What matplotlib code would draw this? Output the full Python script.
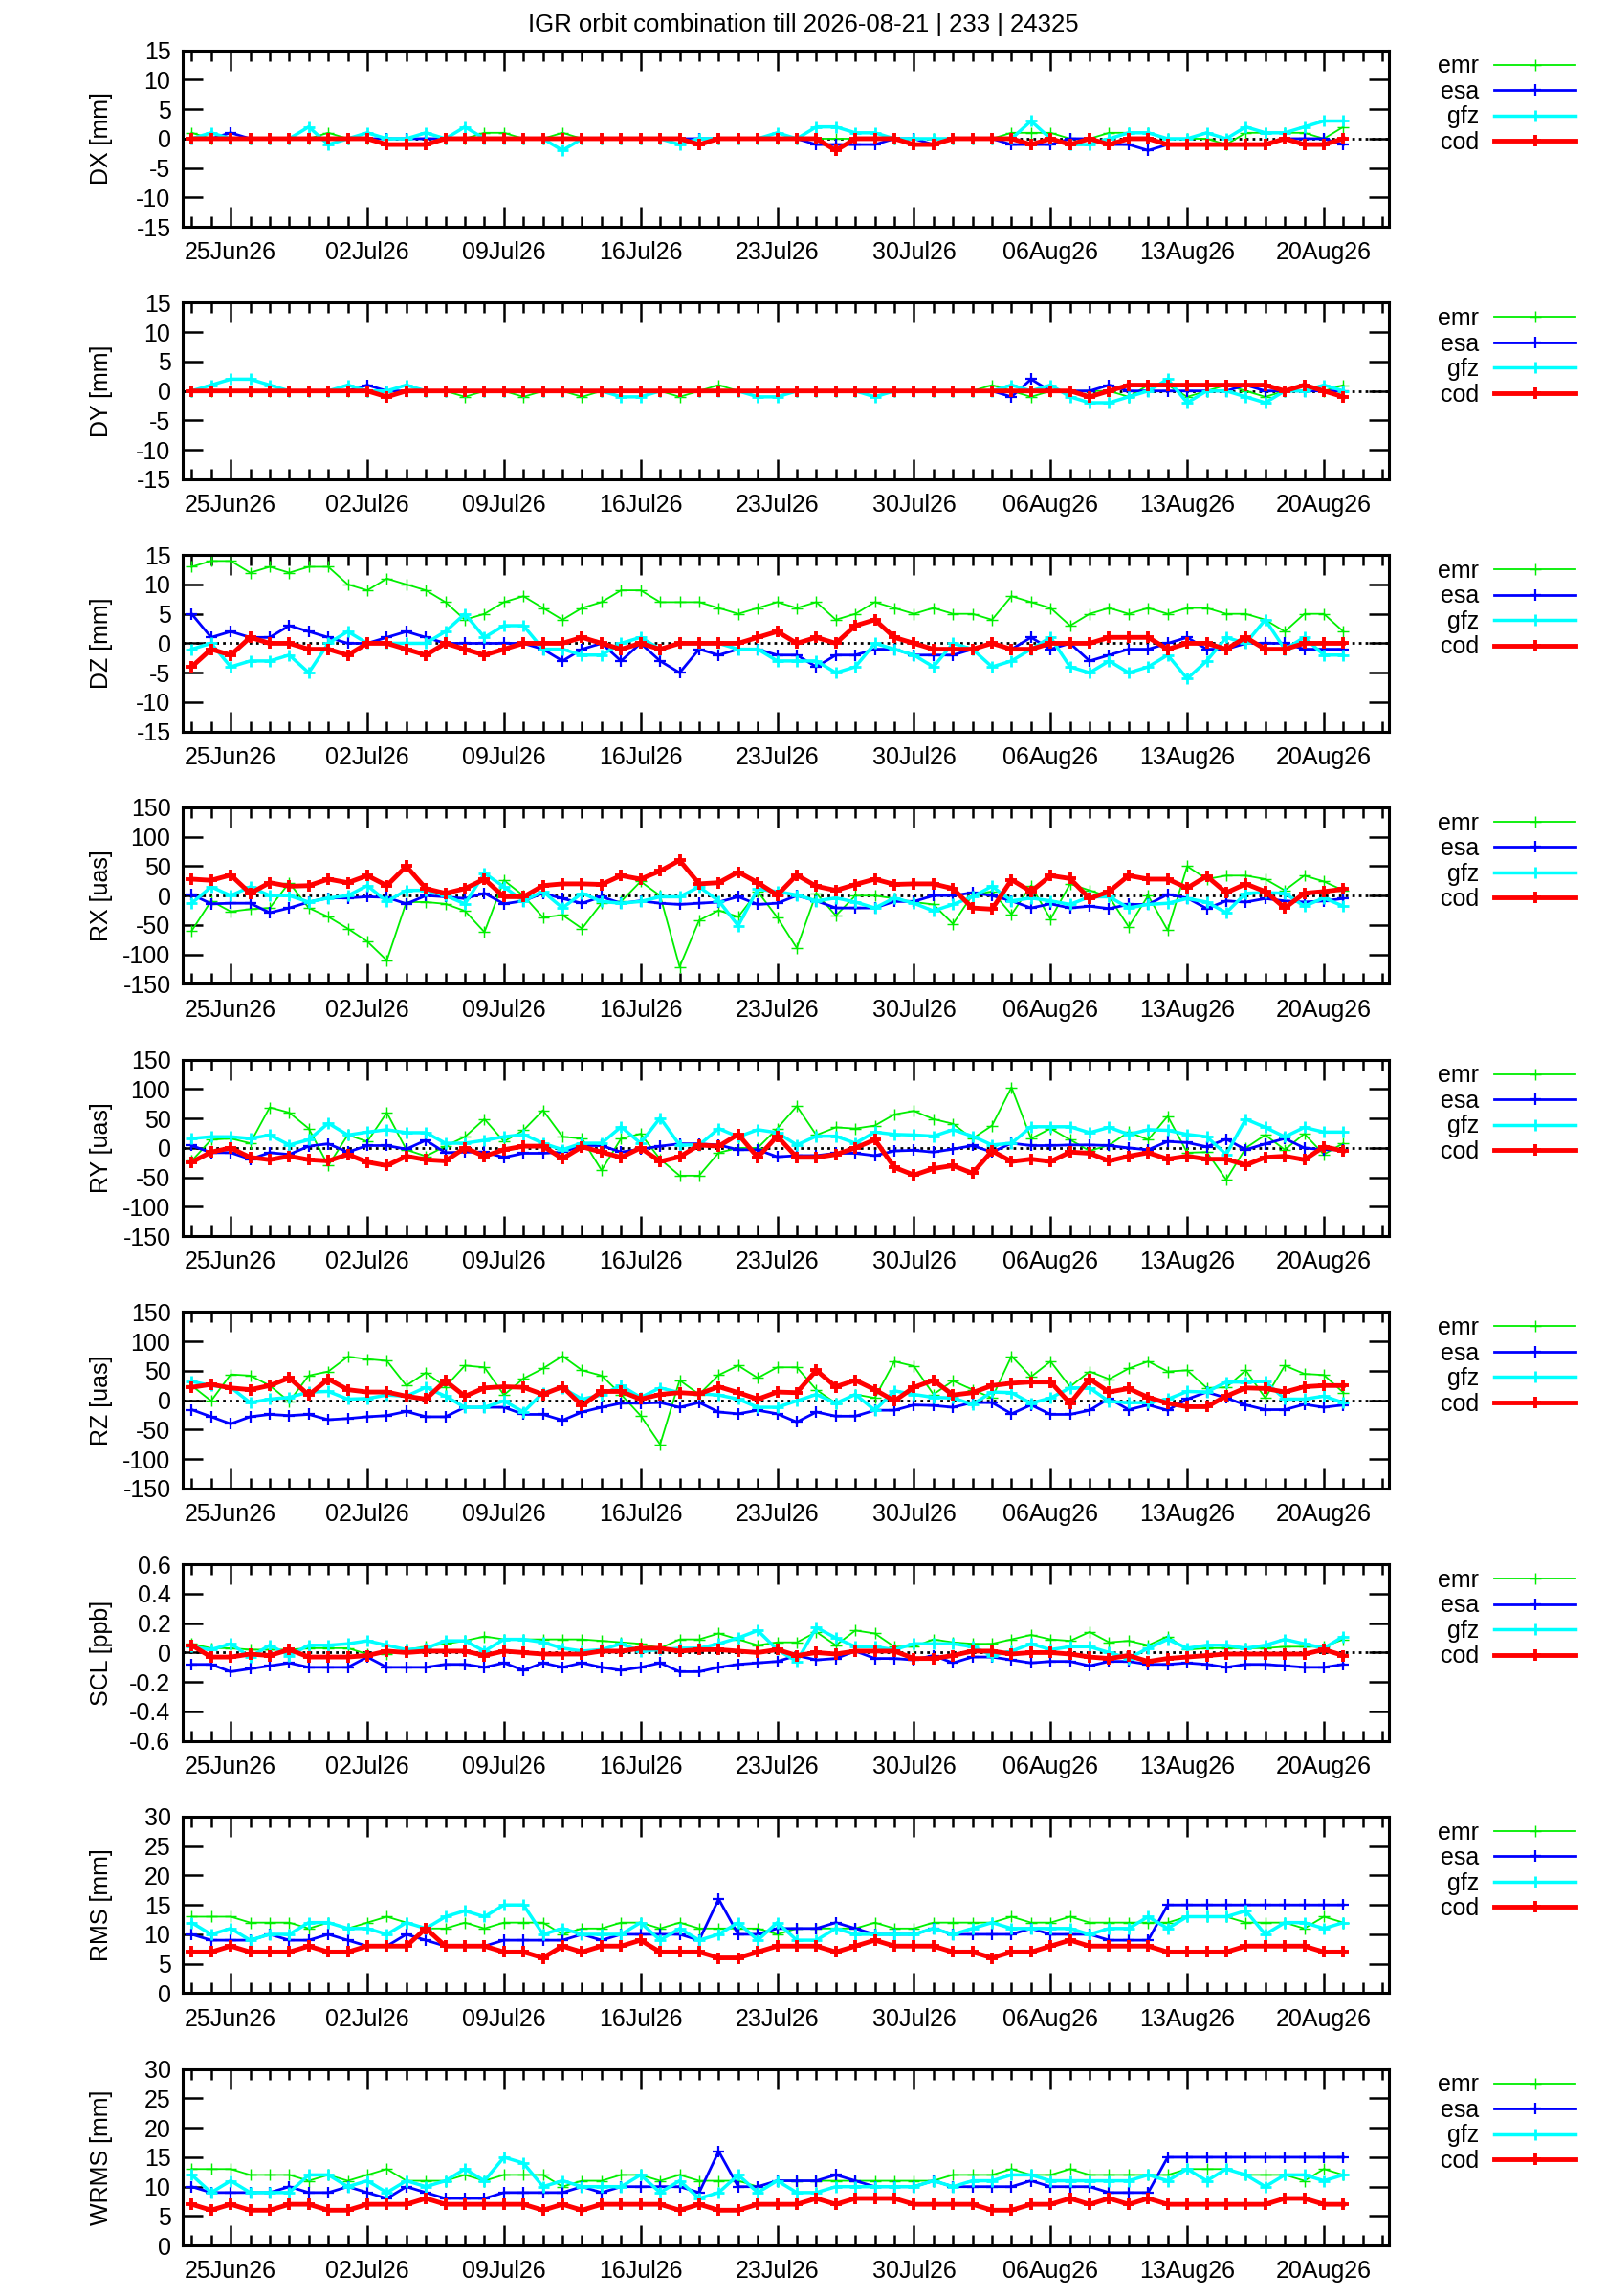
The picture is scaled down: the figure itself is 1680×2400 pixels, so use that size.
import matplotlib
matplotlib.use("Agg")
import matplotlib.pyplot as plt
import matplotlib.dates as mdates
from matplotlib.ticker import MultipleLocator, FuncFormatter
import pandas as pd

# daily solutions 23Jun26 .. 21Aug26
dates = pd.date_range("2026-06-23", "2026-08-21", freq="D")
week_ticks = pd.date_range("2026-06-25", "2026-08-20", freq="7D")
centers = ["emr", "esa", "gfz", "cod"]

dx_emr = [1, 0, 0, 0, 0, 0, 0, 1, 0, 0, 0, 0, 0, 0, 0, 1, 1, 0, 0, 1,
          0, 0, 0, 0, 0, 0, 0, 0, 0, 0, 0, 0, 0, 0, 0, 0, 0, 0, 0, 0,
          0, 0, 1, 1, 1, 0, 0, 1, 1, 1, 0, 0, 0, -1, 1, 1, 1, 1, 0, 2]
dx_esa = [0, 0, 1, 0, 0, 0, 0, 0, 0, 0, 0, 0, 0, 0, 0, 0, 0, 0, 0, 0,
          0, 0, 0, 0, 0, 0, 0, 0, 0, 0, 0, 0, -1, -1, -1, -1, 0, 0, -1, 0,
          0, 0, -1, -1, -1, 0, 0, -1, -1, -2, -1, -1, -1, -1, -1, -1, 0, 0, 0, -1]
dx_gfz = [0, 1, 0, 0, 0, 0, 2, -1, 0, 1, 0, 0, 1, 0, 2, 0, 0, 0, 0, -2,
          0, 0, 0, 0, 0, -1, 0, 0, 0, 0, 1, 0, 2, 2, 1, 1, 0, 0, 0, 0,
          0, 0, 0, 3, 0, -1, -1, 0, 1, 1, 0, 0, 1, 0, 2, 1, 1, 2, 3, 3]
dx_cod = [0, 0, 0, 0, 0, 0, 0, 0, 0, 0, -1, -1, -1, 0, 0, 0, 0, 0, 0, 0,
          0, 0, 0, 0, 0, 0, -1, 0, 0, 0, 0, 0, 0, -2, 0, 0, 0, -1, -1, 0,
          0, 0, 0, -1, 0, -1, 0, -1, 0, 0, -1, -1, -1, -1, -1, -1, 0, -1, -1, 0]

dy_emr = [0, 0, 0, 0, 0, 0, 0, 0, 0, 0, 0, 0, 0, 0, -1, 0, 0, -1, 0, 0,
          -1, 0, 0, 0, 0, -1, 0, 1, 0, 0, 0, 0, 0, 0, 0, 0, 0, 0, 0, 0,
          0, 1, 0, -1, 0, 0, 0, 0, -1, 1, 1, -1, 0, 1, 0, -1, 0, 1, 0, 1]
dy_esa = [0, 0, 0, 0, 0, 0, 0, 0, 0, 1, 0, 0, 0, 0, 0, 0, 0, 0, 0, 0,
          0, 0, 0, 0, 0, 0, 0, 0, 0, 0, 0, 0, 0, 0, 0, 0, 0, 0, 0, 0,
          0, 0, -1, 2, 0, 0, 0, 1, 0, 0, 0, 0, 0, 0, 1, 0, 0, 0, 0, 0]
dy_gfz = [0, 1, 2, 2, 1, 0, 0, 0, 1, 0, 0, 1, 0, 0, 0, 0, 0, 0, 0, 0,
          0, 0, -1, -1, 0, 0, 0, 0, 0, -1, -1, 0, 0, 0, 0, -1, 0, 0, 0, 0,
          0, 0, 1, 0, 1, -1, -2, -2, -1, 0, 2, -2, 0, 0, -1, -2, 0, 0, 1, 0]
dy_cod = [0, 0, 0, 0, 0, 0, 0, 0, 0, 0, -1, 0, 0, 0, 0, 0, 0, 0, 0, 0,
          0, 0, 0, 0, 0, 0, 0, 0, 0, 0, 0, 0, 0, 0, 0, 0, 0, 0, 0, 0,
          0, 0, 0, 0, 0, 0, -1, 0, 1, 1, 1, 1, 1, 1, 1, 1, 0, 1, 0, -1]

dz_emr = [13, 14, 14, 12, 13, 12, 13, 13, 10, 9, 11, 10, 9, 7, 4, 5, 7, 8, 6, 4,
          6, 7, 9, 9, 7, 7, 7, 6, 5, 6, 7, 6, 7, 4, 5, 7, 6, 5, 6, 5,
          5, 4, 8, 7, 6, 3, 5, 6, 5, 6, 5, 6, 6, 5, 5, 4, 2, 5, 5, 2]
dz_esa = [5, 1, 2, 1, 1, 3, 2, 1, 0, 0, 1, 2, 1, 0, 0, 0, 0, 0, -1, -3,
          -1, 0, -3, 0, -3, -5, -1, -2, -1, -1, -2, -2, -4, -2, -2, -1, -1, -2, -2, -2,
          -1, 0, -1, 1, -1, 0, -3, -2, -1, -1, 0, 1, -1, -1, 0, 0, 0, -1, -1, -1]
dz_gfz = [-1, 0, -4, -3, -3, -2, -5, 0, 2, 0, 0, 0, 0, 2, 5, 1, 3, 3, -1, -1,
          -2, -2, 0, 1, -1, 0, 0, 0, -1, -1, -3, -3, -3, -5, -4, 0, -1, -2, -4, 0,
          -1, -4, -3, -1, 1, -4, -5, -3, -5, -4, -2, -6, -3, 1, 0, 4, -1, 1, -2, -2]
dz_cod = [-4, -1, -2, 1, 0, 0, -1, -1, -2, 0, 0, -1, -2, 0, -1, -2, -1, 0, 0, 0,
          1, 0, -1, 0, -1, 0, 0, 0, 0, 1, 2, 0, 1, 0, 3, 4, 1, 0, -1, -1,
          -1, 0, -1, -1, 0, 0, 0, 1, 1, 1, -1, 0, 0, -1, 1, -1, -1, 0, 0, 0]

rx_emr = [-60, -9, -27, -23, -21, 22, -21, -36, -56, -78, -110, -11, -11, -14, -26, -62, 26, 0, -37, -33,
          -56, -13, -10, 24, 0, -121, -42, -25, -36, 7, -37, -89, 4, -34, 0, 0, -5, -11, -15, -48,
          1, 7, -32, 17, -40, 20, 9, -2, -53, 0, -59, 50, 28, 34, 34, 28, 9, 34, 24, 9]
rx_esa = [2, -14, -13, -13, -29, -21, -11, -4, -4, -2, -3, -14, 0, -2, -5, 4, -14, -9, 4, -5,
          -13, -2, -13, -9, -13, -15, -13, -11, -2, -15, -13, 0, -9, -21, -21, -21, -10, -10, 0, 0,
          5, 0, -9, -21, -14, -21, -18, -22, -15, -15, 2, -4, -22, -9, -11, -5, -9, -11, -9, -5]
rx_gfz = [-13, 15, 0, 15, 0, 0, -11, -4, 0, 17, -10, 9, 9, 0, -14, 38, 15, -9, 7, -21,
          4, -10, -13, -10, -2, -2, 15, -9, -51, 11, 7, 1, -9, -4, -11, -21, -4, -13, -26, -15,
          -2, 16, -9, -4, -9, -15, -2, -2, -21, -15, -13, -5, -11, -29, 4, 5, 4, -18, -4, -18]
rx_cod = [28, 26, 35, 4, 22, 16, 17, 28, 22, 34, 17, 50, 12, 4, 12, 28, -2, -2, 17, 20,
          20, 19, 34, 28, 42, 60, 20, 22, 40, 22, 1, 35, 16, 9, 19, 28, 19, 20, 20, 12,
          -21, -23, 27, 7, 34, 29, -5, 7, 34, 28, 28, 13, 33, 5, 20, 7, -21, 4, 7, 11]

ry_emr = [-22, 14, 16, 8, 69, 60, 33, -30, 22, 11, 60, -3, -14, 3, 19, 49, 11, 30, 64, 19,
          16, -38, 16, 24, -19, -47, -47, -8, 0, 0, 33, 71, 22, 35, 33, 38, 57, 63, 49, 41,
          16, 38, 103, 16, 33, 14, -5, 5, 27, 14, 54, -8, -7, -54, 0, 22, -3, 24, -11, 8]
ry_esa = [4, -8, -8, -19, -8, -11, 3, 7, -7, 4, 4, -2, 13, -8, -7, -7, -16, -9, -9, -7,
          4, 4, -7, -2, 3, 7, 7, 5, -3, -3, -15, -13, -13, -9, -9, -13, -5, -4, -7, -2,
          4, -7, 8, 4, 4, 5, 5, 4, 0, -3, 11, 9, 2, 15, -3, 7, 16, 0, -3, -3]
ry_gfz = [16, 19, 19, 16, 22, 5, 14, 42, 22, 27, 31, 26, 26, 8, 8, 13, 19, 23, 8, -3,
          8, 8, 36, 8, 51, 5, 5, 33, 19, 31, 26, 5, 20, 20, 8, 27, 23, 22, 20, 31,
          20, 5, 8, 36, 36, 36, 26, 35, 23, 31, 30, 23, 19, -11, 49, 35, 19, 35, 27, 27]
ry_cod = [-24, -7, 0, -16, -20, -14, -20, -22, -11, -24, -30, -14, -20, -22, 0, -14, -3, 3, 3, -18,
          2, -7, -16, 0, -23, -15, 5, 3, 23, -16, 20, -16, -16, -11, 0, 14, -33, -46, -35, -30,
          -43, -5, -23, -19, -23, -7, -9, -22, -14, -8, -19, -14, -19, -19, -29, -16, -14, -20, 2, -5]

rz_emr = [25, -1, 44, 42, 25, -2, 42, 49, 74, 70, 67, 25, 47, 23, 59, 56, 9, 37, 54, 75,
          51, 42, 10, -26, -75, 34, 10, 43, 59, 38, 56, 56, 18, -5, 10, 4, 66, 58, 10, 33,
          18, 4, 75, 40, 66, 23, 49, 36, 54, 66, 49, 51, 21, 22, 51, 4, 59, 45, 43, 13]
rz_esa = [-16, -28, -40, -28, -24, -26, -24, -33, -31, -28, -26, -19, -28, -28, -12, -12, -12, -24, -24, -34,
          -20, -12, -5, -5, -4, -12, -4, -20, -23, -17, -23, -37, -20, -27, -27, -17, -17, -8, -9, -12,
          -4, -4, -23, -8, -24, -24, -17, 3, -16, -8, -17, 2, 14, 4, -8, -16, -16, -7, -12, -8]
rz_gfz = [32, 25, 22, -4, 2, 5, 14, 15, 2, 3, 9, 7, 22, 7, -12, -12, -1, -20, 13, 21,
          2, 9, 25, 5, 21, 13, 11, 9, 2, -12, -12, -1, 10, -5, 10, -17, 16, 10, 5, 4,
          -7, 14, 13, -5, 4, 21, 21, -2, -4, -4, 2, 15, 14, 31, 31, 32, 2, 2, 7, -4]
rz_cod = [22, 27, 21, 18, 25, 38, 9, 36, 18, 14, 14, 7, 2, 33, 7, 21, 23, 22, 10, 23,
          -9, 15, 15, 2, 10, 13, 11, 23, 13, 2, 14, 13, 51, 23, 34, 18, -1, 22, 34, 9,
          13, 25, 29, 31, 31, -5, 36, 14, 20, 5, -5, -11, -11, 7, 21, 20, 14, 23, 25, 25]

scl_emr = [0.06, 0.03, 0.03, 0.02, 0.02, 0.02, 0.03, 0.03, 0.03, -0.01,
           -0.01, 0.02, 0.04, 0.06, 0.08, 0.11, 0.09, 0.09, 0.09, 0.09,
           0.09, 0.08, 0.07, 0.06, 0.03, 0.09, 0.09, 0.13, 0.09, 0.05,
           0.07, 0.07, 0.14, 0.05, 0.15, 0.13, 0.04, 0.04, 0.09, 0.07,
           0.06, 0.06, 0.09, 0.12, 0.09, 0.08, 0.14, 0.07, 0.08, 0.05,
           0.11, 0.02, 0.03, 0.03, 0.03, 0.03, 0.04, 0.04, 0.04, 0.09]
scl_esa = [-0.08, -0.08, -0.13, -0.11, -0.09, -0.07, -0.10, -0.10, -0.10, -0.03,
           -0.10, -0.10, -0.10, -0.08, -0.08, -0.10, -0.07, -0.12, -0.07, -0.10,
           -0.07, -0.10, -0.12, -0.10, -0.07, -0.13, -0.13, -0.10, -0.08, -0.07,
           -0.06, -0.02, -0.05, -0.04, 0.01, -0.04, -0.04, -0.05, -0.02, -0.07,
           -0.03, -0.03, -0.05, -0.07, -0.06, -0.06, -0.09, -0.06, -0.06, -0.08,
           -0.08, -0.07, -0.08, -0.10, -0.08, -0.08, -0.09, -0.10, -0.10, -0.08]
scl_gfz = [0.04, 0.02, 0.06, -0.03, 0.05, -0.02, 0.05, 0.05, 0.06, 0.08,
           0.05, 0.02, 0.03, 0.08, 0.08, 0.01, 0.09, 0.09, 0.07, 0.03,
           0.01, 0.02, 0.06, 0.01, 0.02, 0.03, 0.03, 0.06, 0.10, 0.15,
           0.02, -0.06, 0.17, 0.10, 0.04, 0.04, 0.02, 0.06, 0.06, 0.06,
           0.04, -0.02, 0.01, 0.06, 0.02, 0.04, 0.04, 0.00, -0.04, 0.03,
           0.09, 0.03, 0.05, 0.05, 0.03, 0.05, 0.09, 0.06, 0.03, 0.11]
scl_cod = [0.05, -0.03, -0.03, -0.01, -0.02, 0.02, -0.03, -0.03, -0.03, -0.02,
           0.01, 0.00, 0.01, 0.01, 0.01, -0.02, 0.01, 0.00, -0.01, -0.01,
           -0.01, 0.01, 0.01, 0.03, 0.03, 0.01, 0.02, 0.02, 0.01, 0.00,
           0.02, -0.02, 0.00, -0.01, 0.01, 0.01, 0.01, -0.04, -0.04, -0.02,
           0.01, 0.01, -0.01, 0.00, 0.00, -0.01, -0.03, -0.04, -0.02, -0.06,
           -0.04, -0.03, -0.02, -0.01, -0.01, -0.01, -0.01, -0.01, 0.02, -0.02]

rms_emr = [13, 13, 13, 12, 12, 12, 11, 12, 11, 12, 13, 12, 11, 11, 12, 11, 12, 12, 12, 10,
           11, 11, 12, 12, 11, 12, 11, 11, 11, 11, 10, 11, 11, 11, 11, 12, 11, 11, 12, 12,
           12, 12, 13, 12, 12, 13, 12, 12, 12, 12, 12, 13, 13, 13, 12, 12, 12, 11, 13, 12]
rms_esa = [10, 9, 9, 9, 10, 9, 9, 10, 9, 8, 8, 10, 9, 8, 8, 8, 9, 9, 9, 9,
           10, 9, 10, 10, 10, 10, 9, 16, 10, 10, 11, 11, 11, 12, 11, 10, 10, 10, 11, 10,
           10, 10, 10, 11, 10, 10, 10, 9, 9, 9, 15, 15, 15, 15, 15, 15, 15, 15, 15, 15]
rms_gfz = [12, 10, 11, 9, 10, 10, 12, 12, 11, 11, 10, 12, 11, 13, 14, 13, 15, 15, 10, 11,
           10, 10, 10, 12, 9, 11, 9, 10, 12, 9, 12, 9, 9, 11, 10, 10, 10, 10, 11, 10,
           11, 12, 11, 11, 11, 11, 10, 11, 11, 13, 11, 13, 13, 13, 14, 10, 12, 12, 11, 12]
rms_cod = [7, 7, 8, 7, 7, 7, 8, 7, 7, 8, 8, 8, 11, 8, 8, 8, 7, 7, 6, 8,
           7, 8, 8, 9, 7, 7, 7, 6, 6, 7, 8, 8, 8, 7, 8, 9, 8, 8, 8, 7,
           7, 6, 7, 7, 8, 9, 8, 8, 8, 8, 7, 7, 7, 7, 8, 8, 8, 8, 7, 7]

wrms_emr = [13, 13, 13, 12, 12, 12, 11, 12, 11, 12, 13, 11, 11, 11, 12, 11, 12, 12, 12, 10,
            11, 11, 12, 12, 11, 12, 11, 11, 11, 10, 11, 11, 11, 11, 11, 11, 11, 11, 11, 12,
            12, 12, 13, 12, 12, 13, 12, 12, 12, 12, 12, 13, 13, 13, 12, 12, 12, 11, 13, 12]
wrms_esa = [10, 9, 9, 9, 9, 10, 9, 9, 10, 9, 8, 10, 9, 8, 8, 8, 9, 9, 9, 9,
            10, 9, 10, 10, 10, 10, 9, 16, 10, 10, 11, 11, 11, 12, 11, 10, 10, 10, 11, 10,
            10, 10, 10, 11, 10, 10, 10, 9, 9, 9, 15, 15, 15, 15, 15, 15, 15, 15, 15, 15]
wrms_gfz = [12, 9, 11, 9, 9, 9, 12, 12, 10, 11, 9, 11, 10, 11, 13, 11, 15, 14, 10, 11,
            10, 10, 10, 12, 9, 11, 8, 9, 12, 9, 11, 9, 9, 10, 10, 10, 10, 10, 11, 10,
            11, 11, 12, 12, 11, 11, 11, 11, 11, 12, 11, 13, 11, 13, 12, 10, 12, 12, 11, 12]
wrms_cod = [7, 6, 7, 6, 6, 7, 7, 6, 6, 7, 7, 7, 8, 7, 7, 7, 7, 7, 6, 7,
            6, 7, 7, 7, 7, 6, 7, 6, 6, 7, 7, 7, 8, 7, 8, 8, 8, 7, 7, 7,
            7, 6, 6, 7, 7, 8, 7, 8, 7, 8, 7, 7, 7, 7, 7, 7, 8, 8, 7, 7]

# (ylabel, series, ylim, ytick step, draw zero line)
panels = [
    ("DX [mm]", [dx_emr, dx_esa, dx_gfz, dx_cod], (-15, 15), 5, True),
    ("DY [mm]", [dy_emr, dy_esa, dy_gfz, dy_cod], (-15, 15), 5, True),
    ("DZ [mm]", [dz_emr, dz_esa, dz_gfz, dz_cod], (-15, 15), 5, True),
    ("RX [uas]", [rx_emr, rx_esa, rx_gfz, rx_cod], (-150, 150), 50, True),
    ("RY [uas]", [ry_emr, ry_esa, ry_gfz, ry_cod], (-150, 150), 50, True),
    ("RZ [uas]", [rz_emr, rz_esa, rz_gfz, rz_cod], (-150, 150), 50, True),
    ("SCL [ppb]", [scl_emr, scl_esa, scl_gfz, scl_cod], (-0.6, 0.6), 0.2, True),
    ("RMS [mm]", [rms_emr, rms_esa, rms_gfz, rms_cod], (0, 30), 5, False),
    ("WRMS [mm]", [wrms_emr, wrms_esa, wrms_gfz, wrms_cod], (0, 30), 5, False),
]

colors = ["#00ee00", "#0000ff", "#00ffff", "#ff0000"]
widths = [1.3, 2.0, 2.5, 3.5]

plt.rcParams["font.family"] = ["Liberation Sans Narrow", "Liberation Sans", "DejaVu Sans"]
plt.rcParams["axes.unicode_minus"] = False
fs = 18

W, H = 1680, 2400
fig = plt.figure(figsize=(W / 100, H / 100), dpi=100)
fig.text(0.5, 1 - 26 / H, "IGR orbit combination till 2026-08-21 | 233 | 24325",
         ha="center", va="center", fontsize=fs + 0.5)

ax_left, ax_w = 191 / W, 1261 / W
ax_h = 184.5 / H
xmin = pd.Timestamp("2026-06-22 13:00")
xmax = pd.Timestamp("2026-08-23 08:00")

for i, (label, series, ylim, step, zero) in enumerate(panels):
    top = 52.7 + 263.75 * i
    ax = fig.add_axes([ax_left, 1 - (top + 184.5) / H, ax_w, ax_h])

    handles = []
    for name, vals, c, lw in zip(centers, series, colors, widths):
        h, = ax.plot(dates, vals, color=c, lw=lw, marker="+", ms=8, mew=lw * 0.8,
                     label=name)
        handles.append(h)
    if zero:
        ax.axhline(0, color="black", lw=2, ls=(0, (1, 1.5)), zorder=0.5)

    ax.set_xlim(xmin, xmax)
    ax.set_ylim(*ylim)
    ax.yaxis.set_major_locator(MultipleLocator(step))
    ax.yaxis.set_major_formatter(FuncFormatter(lambda v, p: "%g" % round(v, 6)))
    ax.set_xticks(week_ticks)
    ax.xaxis.set_minor_locator(mdates.DayLocator())
    ax.xaxis.set_major_formatter(mdates.DateFormatter("%d%b%y"))

    ax.tick_params(which="both", direction="in", top=True, right=True, width=1.8,
                   labelsize=fs)
    ax.tick_params(which="major", length=15)
    ax.tick_params(which="minor", length=8)
    ax.tick_params(axis="x", pad=11)
    ax.tick_params(axis="y", pad=9)
    for sp in ax.spines.values():
        sp.set_linewidth(2.2)

    ax.set_ylabel(label, fontsize=fs)
    ax.yaxis.set_label_coords(-0.058, 0.5)

    ax.legend(handles=handles, loc="upper right", bbox_to_anchor=(1.155, 0.975),
              frameon=False, markerfirst=False, fontsize=fs, handlelength=3.4,
              handletextpad=0.65, labelspacing=0.1, borderpad=0, borderaxespad=0,
              numpoints=1)

fig.savefig("out.png", dpi=100)
